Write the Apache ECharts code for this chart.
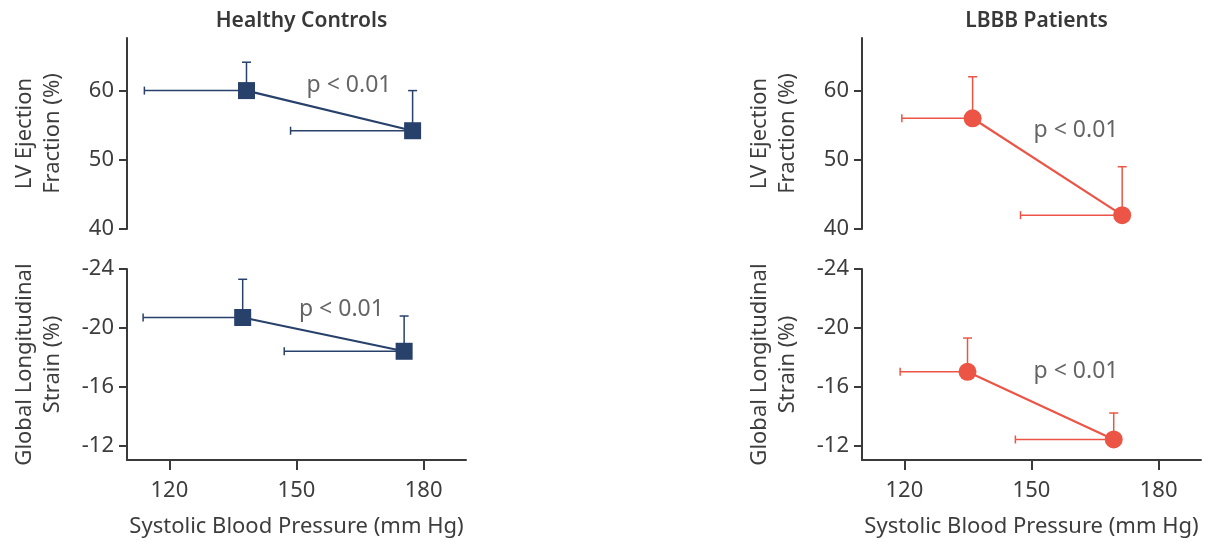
<!DOCTYPE html>
<html>
<head>
<meta charset="utf-8">
<script src="https://cdn.jsdelivr.net/npm/echarts@6/dist/echarts.min.js"></script>
<style>
  html, body { margin: 0; padding: 0; background: #ffffff; }
  #chart { width: 1210px; height: 542px; }
</style>
</head>
<body>
<div id="chart"></div>
<script>
// Panel titles and axis titles
const panelTitles = ['Healthy Controls', 'LBBB Patients'];
const efAxisName = 'LV Ejection\nFraction (%)';
const glsAxisName = 'Global Longitudinal\nStrain (%)';
const sbpAxisName = 'Systolic Blood Pressure (mm Hg)';

// Tick values
const sbpTicks = [120, 150, 180];
const efTicks = [40, 50, 60];
const glsTicks = [-24, -20, -16, -12];

// Healthy controls: ejection fraction vs systolic blood pressure (baseline, afterload increase)
const hcEfSbp = [138.2, 177.4];
const hcEfSbpLow = [114.1, 148.6];
const hcEf = [60, 54.2];
const hcEfHigh = [64.1, 60];

// Healthy controls: global longitudinal strain
const hcGlsSbp = [137.3, 175.4];
const hcGlsSbpLow = [113.8, 147.1];
const hcGls = [-20.7, -18.4];
const hcGlsHigh = [-23.3, -20.8];

// LBBB patients: ejection fraction
const lbEfSbp = [136.1, 171.4];
const lbEfSbpLow = [119.4, 147.4];
const lbEf = [56, 42];
const lbEfHigh = [62, 49];

// LBBB patients: global longitudinal strain
const lbGlsSbp = [134.9, 169.4];
const lbGlsSbpLow = [119.0, 146.2];
const lbGls = [-17.0, -12.4];
const lbGlsHigh = [-19.3, -14.2];

// Significance labels and where they sit (data coordinates)
const pText = 'p < 0.01';
const pAnchorHcEf = [162.4, 60.8];
const pAnchorHcGls = [160.6, -21.25];
const pAnchorLbEf = [160.5, 54.3];
const pAnchorLbGls = [160.5, -17.05];

const NAVY = '#27416b';
const RED = '#ec5546';
const AXIS = '#3a3a3a';
const TEXT = '#3d3d3d';
const FONT = '"Noto Sans", "Open Sans", sans-serif';

const pair = (xs, ys) => xs.map((x, i) => [x, ys[i]]);
const bars = (xs, ys, xl, yh) => xs.map((x, i) => [x, ys[i], xl[i], yh[i]]);

const gridLeft = [127, 862];
const gridW = 339;
const gridTop = [38, 269];
const gridH = 191;

const grids = [];
[0, 1].forEach(col => [0, 1].forEach(row => {
  grids.push({ left: gridLeft[col], top: gridTop[row], width: gridW, height: gridH });
}));
// grid index = col*2 + row

const axisLineStyle = { lineStyle: { color: AXIS, width: 2 } };
const tickLabel = { color: TEXT, fontFamily: FONT, fontSize: 22 };
const nameStyle = { color: TEXT, fontFamily: FONT, fontSize: 22, lineHeight: 28 };

const xAxes = grids.map((g, i) => {
  const bottom = i % 2 === 1;
  return {
    type: 'value', gridIndex: i, min: 110, max: 190,
    show: bottom,
    axisLine: axisLineStyle,
    axisTick: { show: true, length: 10, lineStyle: { color: AXIS, width: 2 }, customValues: sbpTicks },
    axisLabel: Object.assign({ margin: 20, customValues: sbpTicks }, tickLabel),
    splitLine: { show: false },
    name: bottom ? sbpAxisName : '',
    nameLocation: 'middle', nameGap: 53,
    nameTextStyle: nameStyle
  };
});

const yAxes = grids.map((g, i) => {
  const bottom = i % 2 === 1;
  return {
    type: 'value', gridIndex: i,
    min: bottom ? -24 : 40,
    max: bottom ? -11 : 67.6,
    inverse: bottom,
    axisLine: Object.assign({ show: true }, axisLineStyle),
    axisTick: { show: true, length: 8, lineStyle: { color: AXIS, width: 2 }, customValues: bottom ? glsTicks : efTicks },
    axisLabel: Object.assign({ margin: 13, customValues: bottom ? glsTicks : efTicks }, tickLabel),
    splitLine: { show: false },
    name: bottom ? glsAxisName : efAxisName,
    nameLocation: 'middle', nameGap: 60,
    nameTextStyle: nameStyle
  };
});

function errorBarRender(color) {
  return function (params, api) {
    const x = api.value(0), y = api.value(1), xl = api.value(2), yh = api.value(3);
    const p = api.coord([x, y]);
    const pl = api.coord([xl, y]);
    const ph = api.coord([x, yh]);
    const style = { stroke: color, lineWidth: 1.5 };
    return {
      type: 'group',
      children: [
        { type: 'line', shape: { x1: p[0], y1: p[1], x2: ph[0], y2: ph[1] }, style },
        { type: 'line', shape: { x1: ph[0] - 4.5, y1: ph[1], x2: ph[0] + 4.5, y2: ph[1] }, style },
        { type: 'line', shape: { x1: pl[0], y1: pl[1], x2: p[0], y2: p[1] }, style },
        { type: 'line', shape: { x1: pl[0], y1: pl[1] - 4, x2: pl[0], y2: pl[1] + 4 }, style }
      ]
    };
  };
}

function panelSeries(gridIdx, xs, ys, xl, yh, color, symbol, anchor) {
  return [
    {
      type: 'custom', xAxisIndex: gridIdx, yAxisIndex: gridIdx,
      renderItem: errorBarRender(color),
      data: bars(xs, ys, xl, yh), z: 2, silent: true
    },
    {
      type: 'line', xAxisIndex: gridIdx, yAxisIndex: gridIdx,
      data: pair(xs, ys),
      symbol: symbol, symbolSize: symbol === 'rect' ? 17 : 18,
      showSymbol: true,
      itemStyle: { color: color, borderWidth: 0 },
      lineStyle: { color: color, width: 2.2 },
      z: 3, silent: true, animation: false
    },
    {
      type: 'scatter', xAxisIndex: gridIdx, yAxisIndex: gridIdx,
      data: [anchor], symbolSize: 0,
      label: { show: true, position: 'inside', formatter: pText, color: TEXT, fontFamily: FONT, fontSize: 23 },
      z: 4, silent: true
    }
  ];
}

const series = [].concat(
  panelSeries(0, hcEfSbp, hcEf, hcEfSbpLow, hcEfHigh, NAVY, 'rect', pAnchorHcEf),
  panelSeries(1, hcGlsSbp, hcGls, hcGlsSbpLow, hcGlsHigh, NAVY, 'rect', pAnchorHcGls),
  panelSeries(2, lbEfSbp, lbEf, lbEfSbpLow, lbEfHigh, RED, 'circle', pAnchorLbEf),
  panelSeries(3, lbGlsSbp, lbGls, lbGlsSbpLow, lbGlsHigh, RED, 'circle', pAnchorLbGls)
);

const titles = panelTitles.map((t, col) => ({
  text: t,
  left: gridLeft[col] + gridW / 2,
  top: 6,
  textAlign: 'center',
  textStyle: { color: '#383838', fontFamily: FONT, fontSize: 21, fontWeight: 600 }
}));

const chart = echarts.init(document.getElementById('chart'), null, { renderer: 'canvas' });
chart.setOption({
  animation: false,
  backgroundColor: '#ffffff',
  title: titles,
  grid: grids,
  xAxis: xAxes,
  yAxis: yAxes,
  series: series
});
</script>
</body>
</html>
